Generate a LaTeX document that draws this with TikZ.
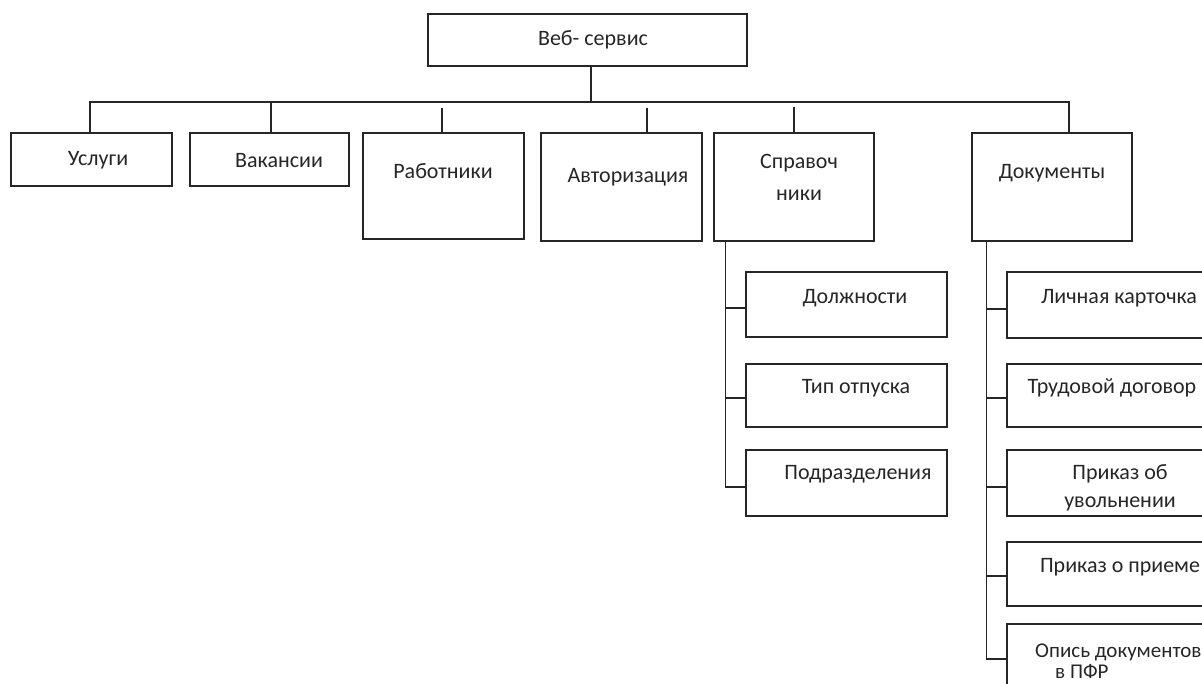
\documentclass[tikz,border=0pt]{standalone}
\usepackage{fontspec}
\setmainfont{Carlito}
\begin{document}
\begin{tikzpicture}[x=1pt,y=-1pt,
  box/.style={draw=black!85, line width=1.5pt, rectangle, inner sep=0pt},
  lbl/.style={inner sep=0pt, text=black!85, font=\fontsize{22}{28}\selectfont, align=center},
  wire/.style={draw=black!85, line width=1.5pt}]
\useasboundingbox (0,0) rectangle (1202,683);
\clip (0,0) rectangle (1202,683);

% root
\node[box, minimum width=319pt, minimum height=52pt] (web) at (587.5,40) {};
\node[lbl] (tweb) at (593,40) {Веб- сервис};

% first level
\node[box, minimum width=161pt, minimum height=53pt]  (usl)  at (91.5,159.5) {};
\node[box, minimum width=159pt, minimum height=53pt]  (vak)  at (269.5,159.5) {};
\node[box, minimum width=161pt, minimum height=106pt] (rab)  at (443.5,186) {};
\node[box, minimum width=161pt, minimum height=108pt] (avt)  at (621.5,187) {};
\node[box, minimum width=160pt, minimum height=108pt] (spr)  at (794,187) {};
\node[box, minimum width=160pt, minimum height=108pt] (dok)  at (1052,187) {};

\node[lbl] (tusl) at (98,160) {Услуги};
\node[lbl] (tvak) at (279,161) {Вакансии};
\node[lbl] (trab) at (443,171) {Работники};
\node[lbl] (tavt) at (628,177) {Авторизация};
\node[lbl] (tspr) at (799,177) {Справоч\\[4pt]ники};
\node[lbl] (tdok) at (1052,173) {Документы};

% reference books
\node[box, minimum width=201pt, minimum height=65pt] (dol) at (846.5,304.5) {};
\node[box, minimum width=201pt, minimum height=63pt] (tip) at (846.5,395.5) {};
\node[box, minimum width=201pt, minimum height=66pt] (pod) at (846.5,483) {};
\node[lbl] (tdol) at (855,298) {Должности};
\node[lbl] (ttip) at (856,388) {Тип отпуска};
\node[lbl] (tpod) at (858,474) {Подразделения};

% documents
\node[box, minimum width=253pt, minimum height=66pt]  (lic) at (1133.5,305) {};
\node[box, minimum width=253pt, minimum height=63pt]  (tru) at (1133.5,395.5) {};
\node[box, minimum width=253pt, minimum height=66pt]  (uvo) at (1133.5,483) {};
\node[box, minimum width=253pt, minimum height=64pt]  (pri) at (1133.5,574) {};
\node[box, minimum width=253pt, minimum height=100pt] (opi) at (1133.5,674) {};
\node[lbl] (tlic) at (1119,298) {Личная карточка};
\node[lbl] (ttru) at (1112,388) {Трудовой договор};
\node[lbl] (tuvo) at (1120,488) {Приказ об\\увольнении};
\node[lbl] (tpri) at (1120,567) {Приказ о приеме};
\node[lbl, anchor=base west, align=left, font=\fontsize{21}{21}\selectfont]
  (topi) at (1035,678) {Опись документов\\\hspace*{20pt}в ПФР};

% bus from the root
\coordinate (busL) at (90,102);
\coordinate (busR) at (1069,102);
\coordinate (busM) at (591,102);
\draw[wire] ([xshift=3.5pt]web.south) -- (busM);
\draw[wire] ([xshift=-1.5pt]usl.north) -- (busL) -- (busR) -- (busR |- dok.north);
\draw[wire] ([xshift=1.5pt]vak.north) -- ++(0,-31);
\draw[wire] ([xshift=-1.5pt]rab.north) -- ++(0,-24);
\draw[wire] ([xshift=25.5pt]avt.north) -- ++(0,-24);
\draw[wire] (spr.north) -- ++(0,-25);

% reference book spine
\draw[wire] ([xshift=12pt]spr.south west) |- ([yshift=-4pt]pod.west);
\draw[wire] ([xshift=12pt]spr.south west) |- ([yshift=-3.5pt]dol.west);
\draw[wire] ([xshift=12pt]spr.south west) |- ([yshift=-2.5pt]tip.west);

% documents spine
\draw[wire] ([xshift=15pt]dok.south west) |- ([yshift=15pt]opi.west);
\draw[wire] ([xshift=15pt]dok.south west) |- ([yshift=-4pt]lic.west);
\draw[wire] ([xshift=15pt]dok.south west) |- ([yshift=-2.5pt]tru.west);
\draw[wire] ([xshift=15pt]dok.south west) |- ([yshift=-4pt]uvo.west);
\draw[wire] ([xshift=15pt]dok.south west) |- ([yshift=-2pt]pri.west);
\end{tikzpicture}
\end{document}
